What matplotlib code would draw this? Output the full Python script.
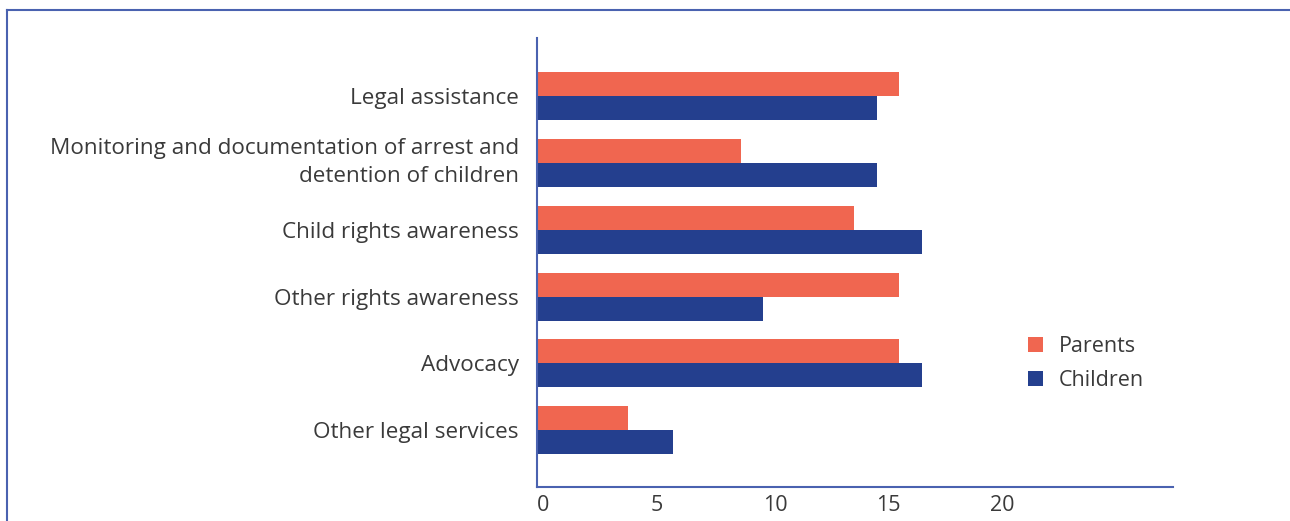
import matplotlib.pyplot as plt
import matplotlib.transforms as mtransforms
from matplotlib.lines import Line2D
import numpy as np

categories = [
    "Legal assistance",
    "Monitoring and documentation of arrest and\ndetention of children",
    "Child rights awareness",
    "Other rights awareness",
    "Advocacy",
    "Other legal services",
]
parents = [16, 9, 14, 16, 16, 4]
children = [15, 15, 17, 10, 17, 6]
xticks = [0, 5, 10, 15, 20]

ORANGE = "#F06650"
BLUE = "#243F8E"
LINE = "#4A62B0"
TEXT = "#3a3a3a"

plt.rcParams["font.family"] = ["Open Sans", "DejaVu Sans"]

fig = plt.figure(figsize=(12.9, 5.21), dpi=100)
ax = fig.add_axes([537 / 1290, 1 - 487 / 521, (1173 - 537) / 1290, (487 - 38) / 521])

y = np.arange(len(categories))
h = 0.36
ax.barh(y - h / 2, parents, height=h, color=ORANGE, label="Parents")
ax.barh(y + h / 2, children, height=h, color=BLUE, label="Children")

ax.set_xlim(0, 28.1)
ax.set_ylim(len(categories) - 1 + 0.85, -0.87)
ax.set_yticks(y)
ax.set_yticklabels(categories, fontsize=16.2, color=TEXT, linespacing=1.4)
ax.set_xticks(xticks)
ax.set_xticklabels([str(t) for t in xticks], fontsize=15.5, color=TEXT, ha="left")
ax.tick_params(axis="y", length=0, pad=13)
ax.tick_params(axis="x", length=0, pad=6)
for lab in ax.get_yticklabels():
    lab.set_multialignment("right")

# two-line label sits a little higher than its bars
up = mtransforms.ScaledTranslation(0, 6 / 100, fig.dpi_scale_trans)
lab = ax.get_yticklabels()[1]
lab.set_transform(lab.get_transform() + up)

for s in ["top", "right"]:
    ax.spines[s].set_visible(False)
for s in ["left", "bottom"]:
    ax.spines[s].set_color(LINE)
    ax.spines[s].set_linewidth(1.5)

ax.legend(loc="center left", bbox_to_anchor=(0.742, 0.275), frameon=False,
          fontsize=15.5, handlelength=0.7, handleheight=0.7, handletextpad=0.7,
          labelspacing=0.62, labelcolor=TEXT)

# page frame lines
fig.add_artist(Line2D([7 / 1290, 1], [1 - 10 / 521] * 2, color=LINE, lw=1.5))
fig.add_artist(Line2D([7 / 1290] * 2, [0, 1 - 10 / 521], color=LINE, lw=1.5))

fig.savefig("out.png", dpi=100)
